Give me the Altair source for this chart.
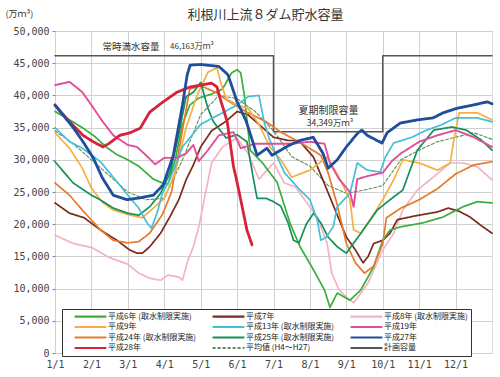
import altair as alt
import pandas as pd

JP = "Noto Sans CJK JP"
MONO = "DejaVu Sans Mono"

SERIES = ["平成6年 (取水制限実施)", "平成7年", "平成8年 (取水制限実施)", "平成9年",
          "平成13年 (取水制限実施)", "平成19年", "平成24年 (取水制限実施)", "平成25年 (取水制限実施)",
          "平成27年", "平成28年", "平均値 (H4～H27)", "計画容量"]
COLORS = ["#3aae3a", "#7a2a1e", "#f2b3c6", "#f4b040", "#45bfd8", "#e0509a",
          "#e67a2a", "#14905a", "#1f4e9c", "#d6223b", "#5e8c58", "#555555"]
DASHES = [[1, 0]] * 10 + [[3, 2], [1, 0]]
MONTH_TICKS = list(range(12))
MONTH_LABELS = [f"{i}/1" for i in range(1, 13)]

# month position: 0 = 1/1, 1 = 2/1, ... 12 = next 1/1 ; values in 万m3
h6_m = [0, 0.4, 0.75, 1.1, 1.4, 1.7, 2.0, 2.3, 2.5, 2.7, 2.95, 3.1, 3.3, 3.5, 3.7, 3.95, 4.3, 4.6, 4.85, 5.0,
        5.1, 5.2, 5.36, 5.7, 6.1, 6.45, 6.73, 7.1, 7.4, 7.55, 7.75, 8.1, 8.4, 8.75, 9.0, 9.2, 9.5, 10.1, 10.65, 11.2, 11.6, 12]
h6_v = [37500, 36200, 35000, 33600, 32000, 30800, 30000, 29000, 28000, 27000, 26400, 26200, 30000, 35500, 38500, 39600,
        40200, 41000, 43500, 44000, 43500, 40000, 31500, 29500, 26500, 20200, 16500, 12900, 9800, 7100, 9300, 8200,
        9800, 13400, 17500, 19100, 19600, 20200, 21100, 22700, 23500, 23300]

h7_m = [0, 0.4, 0.8, 1.25, 1.7, 2.05, 2.25, 2.4, 2.6, 2.9, 3.15, 3.4, 3.6, 3.8, 4.0, 4.3, 4.7, 5.0, 5.3, 5.6,
        6.0, 6.4, 6.7, 7.1, 7.47, 8.0, 8.25, 8.46, 8.6, 8.75, 9.0, 9.2, 9.4, 9.9, 10.5, 10.8, 11.1, 11.4, 11.7, 12]
h7_v = [23300, 21700, 21000, 19100, 17500, 16000, 15500, 15500, 16500, 18600, 21100, 23800, 26900, 29200, 32000, 34500,
        36000, 37500, 37000, 35500, 33500, 33000, 33000, 30400, 25300, 18000, 16000, 14000, 15000, 17000, 17500, 18600,
        20700, 21300, 21900, 22500, 22000, 21100, 19800, 18600]

h8_m = [0, 0.5, 1.0, 1.5, 2.0, 2.3, 2.6, 2.9, 3.1, 3.4, 3.5, 3.65, 3.8, 3.95, 4.15, 4.3, 4.6, 5.0, 5.3, 5.6,
        6.0, 6.3, 6.6, 7.2, 7.47, 7.6, 7.8, 8.0, 8.2, 8.4, 8.6, 9.0, 9.3, 9.55, 9.95, 10.3, 10.85, 11.2, 11.6, 12]
h8_v = [18300, 17000, 16400, 14800, 13800, 12400, 11600, 11300, 12100, 11800, 11300, 14400, 16500, 19600, 25300, 29500,
        32000, 33400, 31000, 27000, 29500, 26400, 25800, 21100, 17100, 12400, 9800, 8700, 7800, 9300, 10900, 16000,
        18600, 22200, 25300, 26900, 29500, 29500, 28900, 26900]

h9_m = [0, 0.4, 0.75, 1.0, 1.3, 1.6, 2.0, 2.4, 2.7, 3.0, 3.3, 3.6, 3.9, 4.2, 4.45, 4.55, 4.7, 5.0, 5.3, 5.6,
        5.9, 6.2, 6.5, 7.0, 7.47, 7.8, 8.1, 8.2, 8.4, 8.7, 9.0, 9.3, 9.55, 10.0, 10.5, 10.85, 10.95, 11.1, 11.6, 12]
h9_v = [34200, 31800, 28700, 25600, 23400, 22200, 21500, 21000, 22500, 24000, 28000, 35000, 40000, 43600, 44300, 42000,
        39500, 38500, 38000, 35500, 32000, 30000, 27300, 28400, 30400, 27300, 23800, 19100, 18600, 21100, 23800, 26900,
        30000, 29500, 28400, 29500, 33000, 37300, 37300, 36200]

h13_m = [0, 0.4, 0.75, 1.25, 1.7, 2.0, 2.3, 2.55, 2.65, 2.8, 2.95, 3.16, 3.5, 4.0, 4.5, 5.0, 5.3, 5.6, 5.75, 5.9,
         6.3, 6.73, 7.0, 7.2, 7.3, 7.45, 7.64, 7.75, 8.1, 8.3, 8.57, 8.93, 9.07, 9.3, 9.8, 10.2, 10.6, 11.0, 11.6, 12]
h13_v = [35000, 32800, 31800, 29700, 26600, 24500, 22500, 20000, 19400, 21700, 24800, 27000, 32000, 35500, 37000, 38500,
         39800, 40000, 35700, 33000, 28000, 25300, 23800, 20700, 17500, 18000, 19600, 22700, 24800, 29500, 28400, 28100,
         30400, 32600, 33500, 34600, 35400, 36500, 36500, 35900]

h19_m = [0, 0.4, 0.75, 1.0, 1.3, 1.6, 2.0, 2.25, 2.5, 2.75, 3.0, 3.35, 3.6, 3.8, 3.95, 4.2, 4.5, 4.9, 5.1, 5.5,
         6.0, 6.5, 7.0, 7.4, 7.55, 7.8, 8.1, 8.2, 8.3, 8.6, 9.0, 9.25, 9.5, 10.0, 10.5, 11.0, 11.5, 12]
h19_v = [41600, 42100, 40500, 38500, 36000, 33800, 32300, 32000, 30700, 29300, 30300, 30300, 31000, 32300, 29800, 31500,
         33800, 34300, 31800, 32500, 32500, 32500, 32800, 32500, 29500, 27000, 25000, 22700, 27000, 27500, 28000, 29800,
         31000, 32800, 33800, 34600, 33500, 32000]

h24_m = [0, 0.4, 0.75, 1.25, 1.6, 2.0, 2.3, 2.6, 2.95, 3.2, 3.45, 3.7, 4.0, 4.4, 4.8, 5.27, 5.8, 6.2, 6.7, 7.3,
         7.5, 7.75, 8.0, 8.25, 8.5, 8.75, 9.0, 9.1, 9.5, 10.0, 10.5, 11.0, 11.5, 12]
h24_v = [26400, 24500, 22200, 19100, 17500, 17100, 17300, 18600, 21500, 25000, 33000, 41000, 41500, 40500, 39000, 37400,
         35900, 34300, 32800, 30700, 28000, 23000, 17000, 14000, 12400, 13500, 17000, 21000, 22500, 23800, 25500, 27800,
         29200, 29700]

h25_m = [0, 0.5, 1.0, 1.24, 1.6, 2.0, 2.3, 2.6, 2.9, 3.16, 3.4, 3.6, 3.8, 4.0, 4.2, 4.35, 4.7, 5.0, 5.27, 5.45,
         5.55, 5.8, 6.0, 6.2, 6.4, 6.55, 6.7, 6.9, 7.1, 7.3, 7.5, 7.75, 8.0, 8.4, 8.85, 9.2, 9.55, 9.75, 9.95, 10.4,
         10.9, 11.3, 11.7, 12]
h25_v = [29700, 26400, 24500, 23800, 22500, 21700, 21400, 22700, 24800, 28000, 34000, 39800, 40500, 42000, 38000, 35900,
         33400, 33900, 32800, 27000, 24000, 24000, 23500, 22800, 20200, 17500, 17100, 20000, 21700, 20200, 18000, 16500,
         15500, 18600, 22200, 23800, 25300, 28400, 31500, 34600, 35100, 34600, 33100, 31500]

h27_m = [0, 0.5, 0.77, 1.05, 1.3, 1.6, 1.98, 2.34, 2.7, 2.97, 3.25, 3.5, 3.63, 3.71, 4.0, 4.5, 4.75, 5.0, 5.25, 5.55,
         5.82, 5.96, 6.2, 6.45, 6.73, 7.09, 7.36, 7.5, 7.75, 8.0, 8.32, 8.43, 8.57, 8.98, 9.12, 9.48, 9.95, 10.38, 10.66,
         11.04, 11.48, 11.87, 12]
h27_v = [38500, 35000, 32800, 30300, 27200, 24500, 23800, 24100, 24500, 26100, 30700, 38500, 43200, 44700, 44800, 44500,
         43200, 39000, 36000, 30700, 31800, 30700, 31500, 32300, 33000, 33500, 31000, 28700, 30000, 32000, 34200, 34600,
         33800, 32600, 34200, 35700, 36200, 36500, 37300, 38000, 38500, 39000, 38700]

h28_m = [0, 0.4, 0.77, 1.05, 1.32, 1.5, 1.78, 2.06, 2.34, 2.6, 2.97, 3.35, 3.71, 4.0, 4.3, 4.45, 4.53, 4.73, 4.9, 5.0,
         5.14, 5.27, 5.41]
h28_v = [38500, 35900, 33800, 32800, 32000, 32600, 33800, 34200, 34900, 37400, 39000, 40500, 41300, 41600, 41900, 41300,
         39600, 35900, 29000, 26500, 22700, 19100, 16800]

avg_m = [0, 0.5, 1, 1.5, 2, 2.5, 3, 3.5, 4, 4.5, 5, 5.5, 6, 6.5, 7, 7.5, 8, 8.5, 9, 9.5, 10, 10.5, 11, 11.5, 12]
avg_v = [34500, 32500, 30000, 27500, 25000, 23800, 24000, 30000, 37000, 40000, 39500, 37500, 34500, 30500, 29000, 26000,
         24800, 25300, 26000, 30000, 31500, 32800, 33500, 34200, 33200]

cap_m = [0, 6, 6, 9, 9, 12]
cap_v = [46163, 46163, 34349, 34349, 46163, 46163]

# drawing order (bottom to top)
layers = [
    (SERIES[11], cap_m, cap_v, 1.5),
    (SERIES[10], avg_m, avg_v, 1.1),
    (SERIES[2], h8_m, h8_v, 1.7),
    (SERIES[1], h7_m, h7_v, 1.7),
    (SERIES[0], h6_m, h6_v, 1.7),
    (SERIES[6], h24_m, h24_v, 1.7),
    (SERIES[3], h9_m, h9_v, 1.7),
    (SERIES[7], h25_m, h25_v, 1.7),
    (SERIES[4], h13_m, h13_v, 1.7),
    (SERIES[5], h19_m, h19_v, 1.9),
    (SERIES[9], h28_m, h28_v, 2.8),
    (SERIES[8], h27_m, h27_v, 2.8),
]
rows = []
for k, (name, ms, vs, w) in enumerate(layers):
    for i, (m, v) in enumerate(zip(ms, vs)):
        rows.append({"series": name, "m": m, "v": v, "i": i, "w": w, "k": k})
df = pd.DataFrame(rows)

ann_text = ["常時満水容量", "46,163万ｍ³", "夏期制限容量", "34,349万ｍ³"]
ann_m = [2.09, 3.76, 7.51, 7.55]
ann_v = [47500, 47500, 37600, 35700]
ann_fs = [9.5, 8, 10, 8.5]
ann = pd.DataFrame({"t": ann_text, "m": ann_m, "v": ann_v, "fs": ann_fs})

legend = alt.Legend(
    title=None, orient="none", legendX=7, legendY=278, direction="horizontal", columns=3,
    symbolType="M1.7,0L12.3,0", symbolSize=36, symbolStrokeWidth=2.2,
    labelFont=JP, labelFontSize=8, labelColor="#222", labelOffset=34, labelLimit=220,
    fillColor="white", strokeColor="#333", padding=3, rowPadding=1.5, columnPadding=6,
)

label_expr = "[" + ",".join(f"'{s}'" for s in MONTH_LABELS) + "][datum.value]"

x_scale = alt.Scale(domain=[0, 12], nice=False, zero=False)
y_scale = alt.Scale(domain=[0, 50000], nice=False)
x_axis = alt.Axis(values=MONTH_TICKS, labelExpr=label_expr, title=None,
                  ticks=False, domain=False, labelFont=MONO, labelFontSize=10, labelColor="#444",
                  labelPadding=6, labelOverlap=False, labelBound=False, labelFlush=False,
                  labelSeparation=0, gridColor="#d0d0d0")
y_axis = alt.Axis(values=list(range(0, 50001, 5000)), format=",d", title="(万ｍ³)", titleAngle=0,
                  titleX=-50, titleY=-18, titleAlign="left", titleBaseline="middle", titleFont=JP,
                  titleFontSize=9, titleFontWeight="normal", titleColor="#333",
                  ticks=True, tickSize=3, tickColor="#888", domain=False, labelFont=MONO,
                  labelFontSize=10, labelColor="#444", labelPadding=3, labelOverlap=False,
                  gridColor="#d0d0d0")

lines = alt.Chart(df).mark_line(strokeJoin="round", strokeCap="round").encode(
    x=alt.X("m:Q", scale=x_scale, axis=x_axis),
    y=alt.Y("v:Q", scale=y_scale, axis=y_axis),
    color=alt.Color("series:N", scale=alt.Scale(domain=SERIES, range=COLORS), legend=legend),
    strokeDash=alt.StrokeDash("series:N", scale=alt.Scale(domain=SERIES, range=DASHES), legend=legend),
    strokeWidth=alt.StrokeWidth("w:Q", scale=None),
    detail="k:O",
    order="i:Q",
)

texts = alt.Chart(ann).mark_text(font=JP, color="#333").encode(
    x=alt.X("m:Q", scale=x_scale, axis=x_axis),
    y=alt.Y("v:Q", scale=y_scale, axis=y_axis),
    text="t:N", size=alt.Size("fs:Q", scale=None)
)

chart = alt.layer(lines, texts).properties(
    width=437, height=322,
    title=alt.TitleParams("利根川上流８ダム貯水容量", font=JP, fontSize=13, fontWeight="normal",
                          color="#333", anchor="middle", offset=-13, dx=-8),
    padding={"left": 55, "top": 31, "right": 8, "bottom": 24},
    autosize=alt.AutoSizeParams(type="none"),
).configure_view(stroke="#555", strokeWidth=1.2).configure(background="white")

chart.save("out.html", embed_options={"renderer": "svg", "actions": False})
